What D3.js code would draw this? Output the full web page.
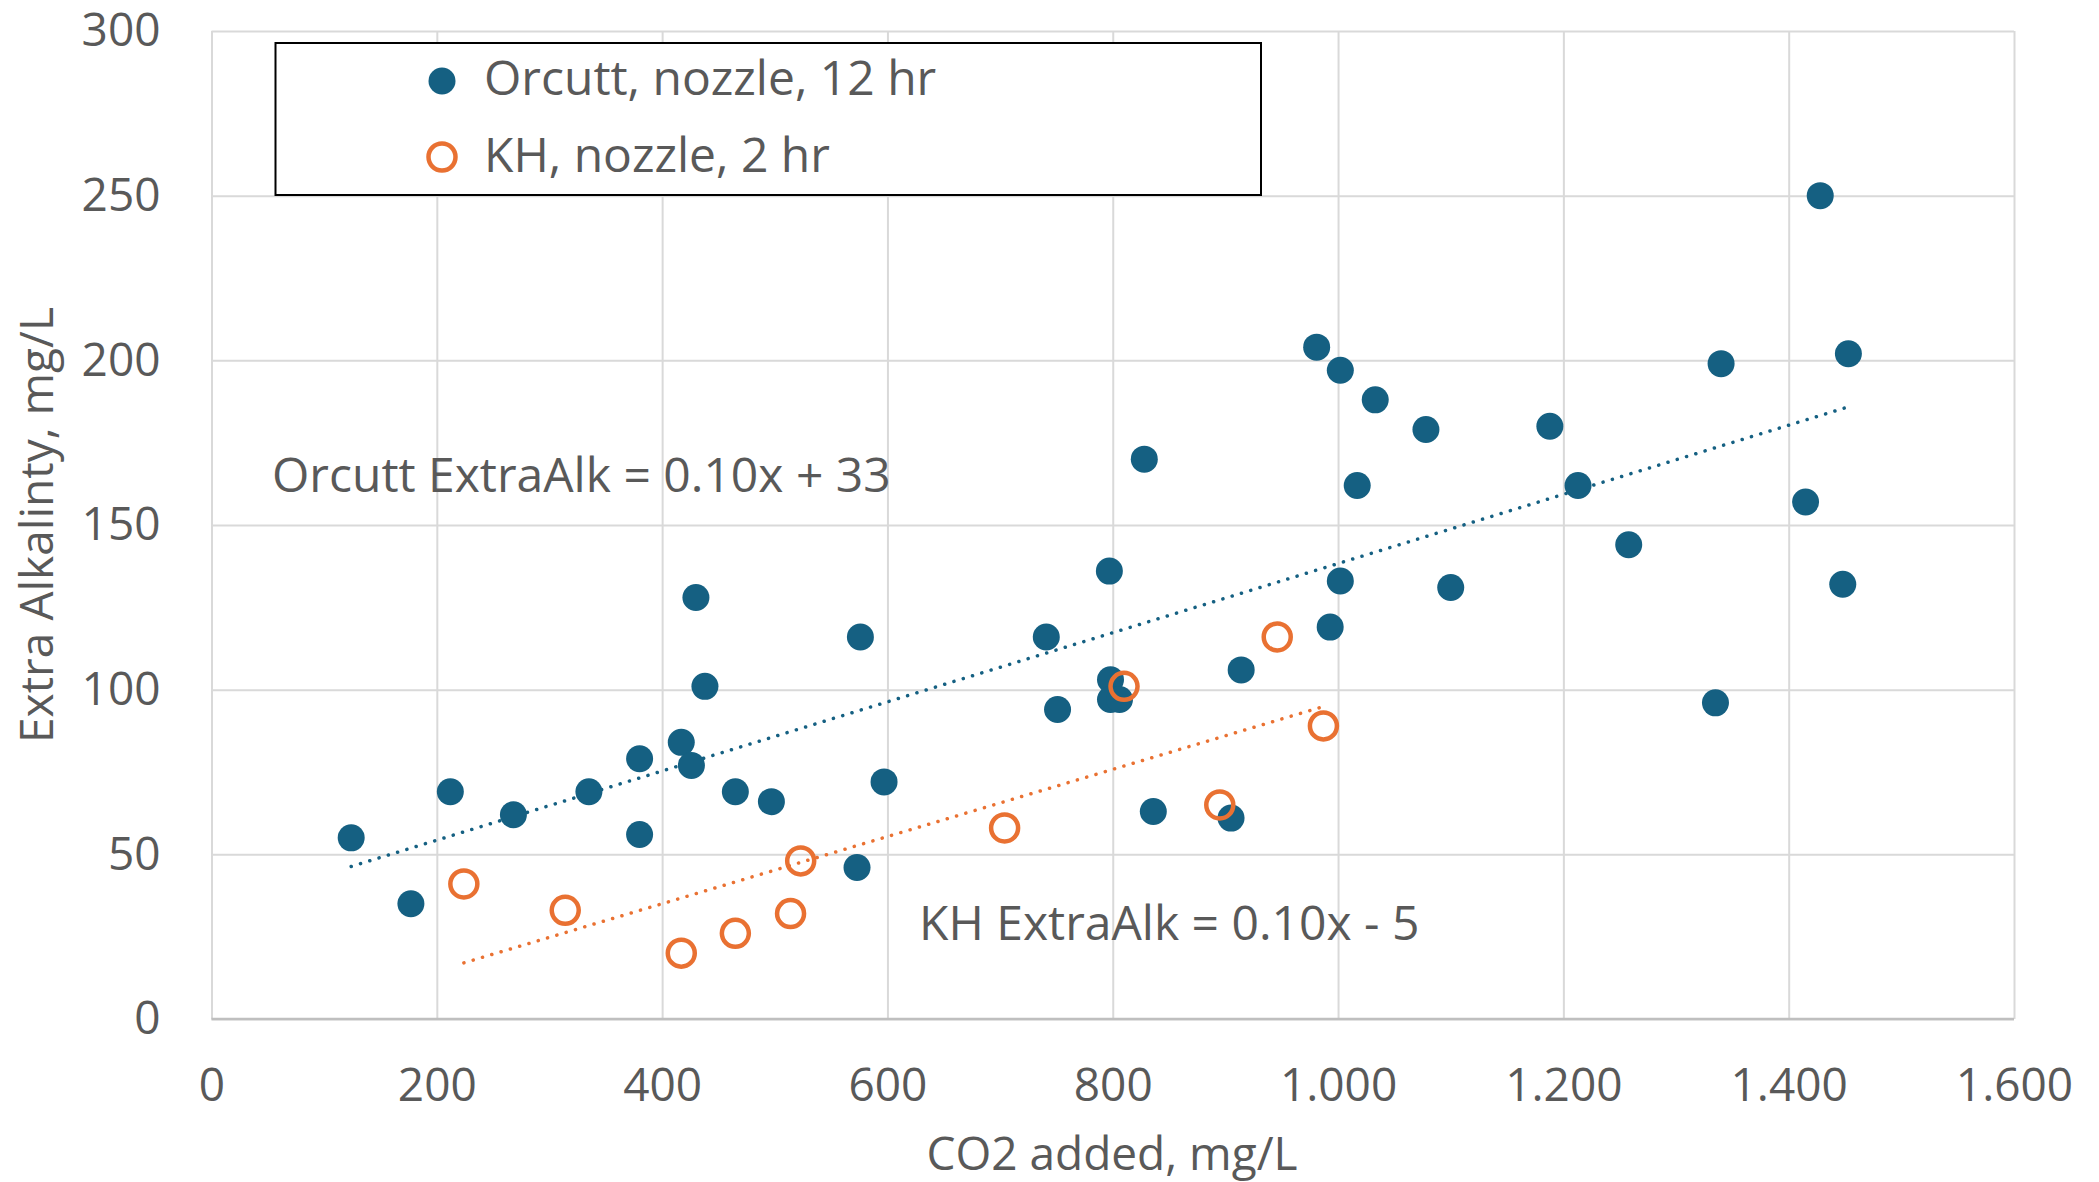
<!DOCTYPE html>
<html>
<head>
<meta charset="utf-8">
<script src="https://cdn.jsdelivr.net/npm/d3@7"></script>
<style>
  body { margin: 0; background: #fff; }
  text { font-family: "Open Sans", "Liberation Sans", sans-serif; fill: #595959; }
</style>
</head>
<body>
<svg id="chart" width="2099" height="1182"></svg>
<script>
// values
const orcuttCO2 = [124, 177, 212, 268, 335, 380, 380, 417, 426, 430, 438, 465, 497, 573, 576, 597,
  741, 751, 797, 798, 798, 806, 828, 836, 905, 914, 981, 993, 1002, 1002, 1017, 1033, 1078, 1100,
  1188, 1213, 1258, 1335, 1340, 1415, 1428, 1448, 1453]
const orcuttAlk = [55, 35, 69, 62, 69, 79, 56, 84, 77, 128, 101, 69, 66, 46, 116, 72,
  116, 94, 136, 103, 97, 97, 170, 63, 61, 106, 204, 119, 197, 133, 162, 188, 179, 131,
  180, 162, 144, 96, 199, 157, 250, 132, 202]

const khCO2 = [224, 314, 417, 465, 514, 523, 704, 810, 895, 946, 987]
const khAlk = [41, 33, 20, 26, 32, 48, 58, 101, 65, 116, 89]

const seriesNames = ["Orcutt, nozzle, 12 hr", "KH, nozzle, 2 hr"]
const fitLabels = ["Orcutt ExtraAlk = 0.10x + 33", "KH ExtraAlk = 0.10x - 5"]
const fitSlopes = [0.105, 0.102]
const fitIntercepts = [33.3, -5.8]

const xTicks = [0, 200, 400, 600, 800, 1000, 1200, 1400, 1600]
const yTicks = [0, 50, 100, 150, 200, 250, 300]

const blue = "#156082"
const orange = "#E97132"

const svg = d3.select("#chart")
svg.append("rect").attr("width", 2099).attr("height", 1182).attr("fill", "#fff")

const plotL = 211.5, plotR = 2014, plotT = 31, plotB = 1019

const x = d3.scaleLinear().domain([0, 1600]).range([plotL, plotR])
const y = d3.scaleLinear().domain([0, 300]).range([plotB, plotT])

const fmt = d3.formatLocale({decimal: ",", thousands: ".", grouping: [3], currency: ["", ""]}).format(",d")

//gridlines + tick labels
const xAxis = svg.append("g").attr("transform", `translate(0,${plotB})`)
  .call(d3.axisBottom(x).tickValues(xTicks).tickFormat(fmt).tickSizeInner(-(plotB - plotT)).tickSizeOuter(0).tickPadding(49))
const yAxis = svg.append("g").attr("transform", `translate(${plotL},0)`)
  .call(d3.axisLeft(y).tickValues(yTicks).tickSizeInner(-(plotR - plotL)).tickSizeOuter(0).tickPadding(51))

for (const g of [xAxis, yAxis]) {
  g.select(".domain").remove()
  g.selectAll(".tick line").attr("stroke", "#d9d9d9").attr("stroke-width", 2)
  g.selectAll(".tick text").style("font-size", "46px").attr("fill", "#595959")
}
xAxis.selectAll(".tick text").attr("dy", "0.71em")

// bottom axis line
svg.append("line").attr("x1", plotL).attr("x2", plotR).attr("y1", plotB).attr("y2", plotB)
  .attr("stroke", "#bfbfbf").attr("stroke-width", 2.5)

// trendlines
const series = [
  {xs: orcuttCO2, ys: orcuttAlk, color: blue},
  {xs: khCO2, ys: khAlk, color: orange}
]
series.forEach((s, i) => {
  const ext = d3.extent(s.xs)
  const pts = ext.map(v => [v, fitSlopes[i] * v + fitIntercepts[i]])
  svg.append("path")
    .attr("d", d3.line().x(d => x(d[0])).y(d => y(d[1]))(pts))
    .attr("fill", "none").attr("stroke", s.color).attr("stroke-width", 3.5)
    .attr("stroke-linecap", "round").attr("stroke-dasharray", "0.1 9.6")
})

// points
svg.append("g").selectAll("circle")
  .data(d3.zip(orcuttCO2, orcuttAlk))
  .join("circle")
  .attr("cx", d => x(d[0])).attr("cy", d => y(d[1])).attr("r", 13.5)
  .attr("fill", blue)

svg.append("g").selectAll("circle")
  .data(d3.zip(khCO2, khAlk))
  .join("circle")
  .attr("cx", d => x(d[0])).attr("cy", d => y(d[1])).attr("r", 13.5)
  .attr("fill", "none").attr("stroke", orange).attr("stroke-width", 4.5)

// equation labels
svg.append("text").attr("x", 272).attr("y", 492).style("font-size", "48px").text(fitLabels[0])
svg.append("text").attr("x", 919).attr("y", 940).style("font-size", "48px").text(fitLabels[1])

// legend
const legend = svg.append("g")
legend.append("rect").attr("x", 275.5).attr("y", 43).attr("width", 985.5).attr("height", 152)
  .attr("fill", "#fff").attr("stroke", "#000").attr("stroke-width", 2)
legend.append("circle").attr("cx", 442).attr("cy", 81).attr("r", 13.5).attr("fill", blue)
legend.append("circle").attr("cx", 442).attr("cy", 157).attr("r", 13.5)
  .attr("fill", "none").attr("stroke", orange).attr("stroke-width", 4.5)
legend.append("text").attr("x", 484).attr("y", 95).style("font-size", "48px").text(seriesNames[0])
legend.append("text").attr("x", 484).attr("y", 172).style("font-size", "48px").text(seriesNames[1])

// axis titles
svg.append("text").attr("x", 1112).attr("y", 1170).attr("text-anchor", "middle")
  .style("font-size", "46px").text("CO2 added, mg/L")
svg.append("text").attr("transform", "translate(53,525) rotate(-90)").attr("text-anchor", "middle")
  .style("font-size", "46px").text("Extra Alkalinty, mg/L")
</script>
</body>
</html>
